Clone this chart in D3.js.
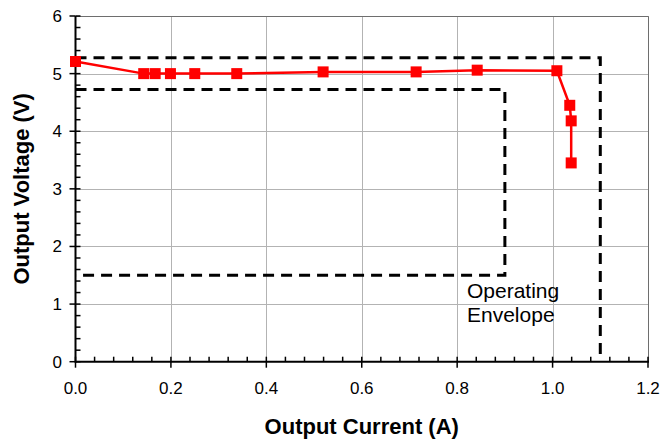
<!DOCTYPE html>
<html>
<head>
<meta charset="utf-8">
<script src="https://cdn.jsdelivr.net/npm/d3@7"></script>
<style>
  html, body { margin: 0; padding: 0; background: #fff; }
  svg { display: block; }
  text { font-family: "Liberation Sans", Arial, sans-serif; fill: #000; }
</style>
</head>
<body>
<svg id="chart" width="662" height="443"></svg>
<script>
// ---- Data ----
const currentA = [0, 0.143, 0.167, 0.199, 0.25, 0.338, 0.519, 0.714, 0.842, 1.009, 1.036, 1.039, 1.039];
const voltageV = [5.21, 5.0, 5.0, 5.0, 5.0, 5.0, 5.03, 5.03, 5.06, 5.05, 4.45, 4.18, 3.45];
const outerEnvX = [0, 1.1, 1.1];
const outerEnvY = [5.275, 5.275, 0];
const innerEnvX = [0, 0.9, 0.9, 0];
const innerEnvY = [4.725, 4.725, 1.5, 1.5];
const xTicks = [0, 0.2, 0.4, 0.6, 0.8, 1.0, 1.2];
const yTicks = [0, 1, 2, 3, 4, 5, 6];
const annotationLines = ["Operating", "Envelope"];
const xTitle = "Output Current (A)";
const yTitle = "Output Voltage (V)";

// ---- Layout ----
const svg = d3.select("#chart");
const x = d3.scaleLinear().domain([0, 1.2]).range([75.5, 648]);
const y = d3.scaleLinear().domain([0, 6]).range([361.7, 16]);

// gridlines
svg.append("g").selectAll("line.vg").data(xTicks.slice(1)).join("line")
  .attr("x1", d => Math.round(x(d)) + 0.5).attr("x2", d => Math.round(x(d)) + 0.5)
  .attr("y1", y(6)).attr("y2", y(0))
  .attr("stroke", "#b3b3b3").attr("stroke-width", 1);
svg.append("g").selectAll("line.hg").data(yTicks.slice(1)).join("line")
  .attr("x1", x(0)).attr("x2", x(1.2))
  .attr("y1", d => Math.round(y(d)) + 0.5).attr("y2", d => Math.round(y(d)) + 0.5)
  .attr("stroke", "#b3b3b3").attr("stroke-width", 1);

// plot border (top & right)
svg.append("path")
  .attr("d", `M${x(0)},${Math.round(y(6)) + 0.5}H${Math.round(x(1.2)) + 0.5}V${y(0)}`)
  .attr("fill", "none").attr("stroke", "#6e6e6e").attr("stroke-width", 1);

// envelope
const envLine = d3.line().x(d => x(d[0])).y(d => y(d[1]));
[[outerEnvX, outerEnvY], [innerEnvX, innerEnvY]].forEach(([xs, ys]) => {
  svg.append("path")
    .attr("d", envLine(xs.map((v, i) => [v, ys[i]])))
    .attr("fill", "none").attr("stroke", "#000").attr("stroke-width", 3)
    .attr("stroke-dasharray", "11,7");
});

// axes
const xMinor = d3.range(0, 1.2001, 0.04);
const yMinor = d3.range(0, 6.0001, 0.2);
const axX = svg.append("g");
axX.selectAll("line.mn").data(xMinor).join("line")
  .attr("x1", d => x(d)).attr("x2", d => x(d))
  .attr("y1", y(0)).attr("y2", y(0) - 5)
  .attr("stroke", "#000").attr("stroke-width", 1.5);
axX.selectAll("line.mj").data(xTicks).join("line")
  .attr("x1", d => x(d)).attr("x2", d => x(d))
  .attr("y1", y(0)).attr("y2", y(0) + 6)
  .attr("stroke", "#000").attr("stroke-width", 1.5);
axX.selectAll("text").data(xTicks).join("text")
  .attr("x", d => x(d)).attr("y", 394)
  .attr("text-anchor", "middle").attr("font-size", 17)
  .text(d => d3.format(".1f")(d));

const axY = svg.append("g");
axY.selectAll("line.mn").data(yMinor).join("line")
  .attr("x1", x(0)).attr("x2", x(0) + 5)
  .attr("y1", d => y(d)).attr("y2", d => y(d))
  .attr("stroke", "#000").attr("stroke-width", 1.5);
axY.selectAll("line.mj").data(yTicks).join("line")
  .attr("x1", x(0) - 6).attr("x2", x(0))
  .attr("y1", d => y(d)).attr("y2", d => y(d))
  .attr("stroke", "#000").attr("stroke-width", 1.5);
axY.selectAll("text").data(yTicks).join("text")
  .attr("x", 62).attr("y", d => y(d) + 6)
  .attr("text-anchor", "end").attr("font-size", 17)
  .text(d => d);

svg.append("line").attr("x1", x(0)).attr("x2", x(1.2) + 1).attr("y1", y(0)).attr("y2", y(0))
  .attr("stroke", "#000").attr("stroke-width", 2);
svg.append("line").attr("x1", x(0)).attr("x2", x(0)).attr("y1", y(6)).attr("y2", y(0) + 1)
  .attr("stroke", "#000").attr("stroke-width", 2);

// data series
const pts = currentA.map((v, i) => [v, voltageV[i]]);
svg.append("path")
  .attr("d", d3.line().x(d => x(d[0])).y(d => y(d[1]))(pts))
  .attr("fill", "none").attr("stroke", "#ff0000").attr("stroke-width", 2.5);
const ms = 11;
svg.append("g").selectAll("rect").data(pts).join("rect")
  .attr("x", d => x(d[0]) - ms / 2).attr("y", d => y(d[1]) - ms / 2)
  .attr("width", ms).attr("height", ms).attr("fill", "#ff0000");

// annotation
svg.append("text").attr("x", 467).attr("y", 298).attr("font-size", 21)
  .selectAll("tspan").data(annotationLines).join("tspan")
  .attr("x", 467).attr("dy", (d, i) => i === 0 ? 0 : 23.5).text(d => d);

// titles
svg.append("text").attr("x", (x(0) + x(1.2)) / 2).attr("y", 434)
  .attr("text-anchor", "middle").attr("font-size", 22).attr("font-weight", "bold")
  .text(xTitle);
svg.append("text").attr("transform", `translate(29,${(y(0) + y(6)) / 2}) rotate(-90)`)
  .attr("text-anchor", "middle").attr("font-size", 22).attr("font-weight", "bold")
  .text(yTitle);
</script>
</body>
</html>
